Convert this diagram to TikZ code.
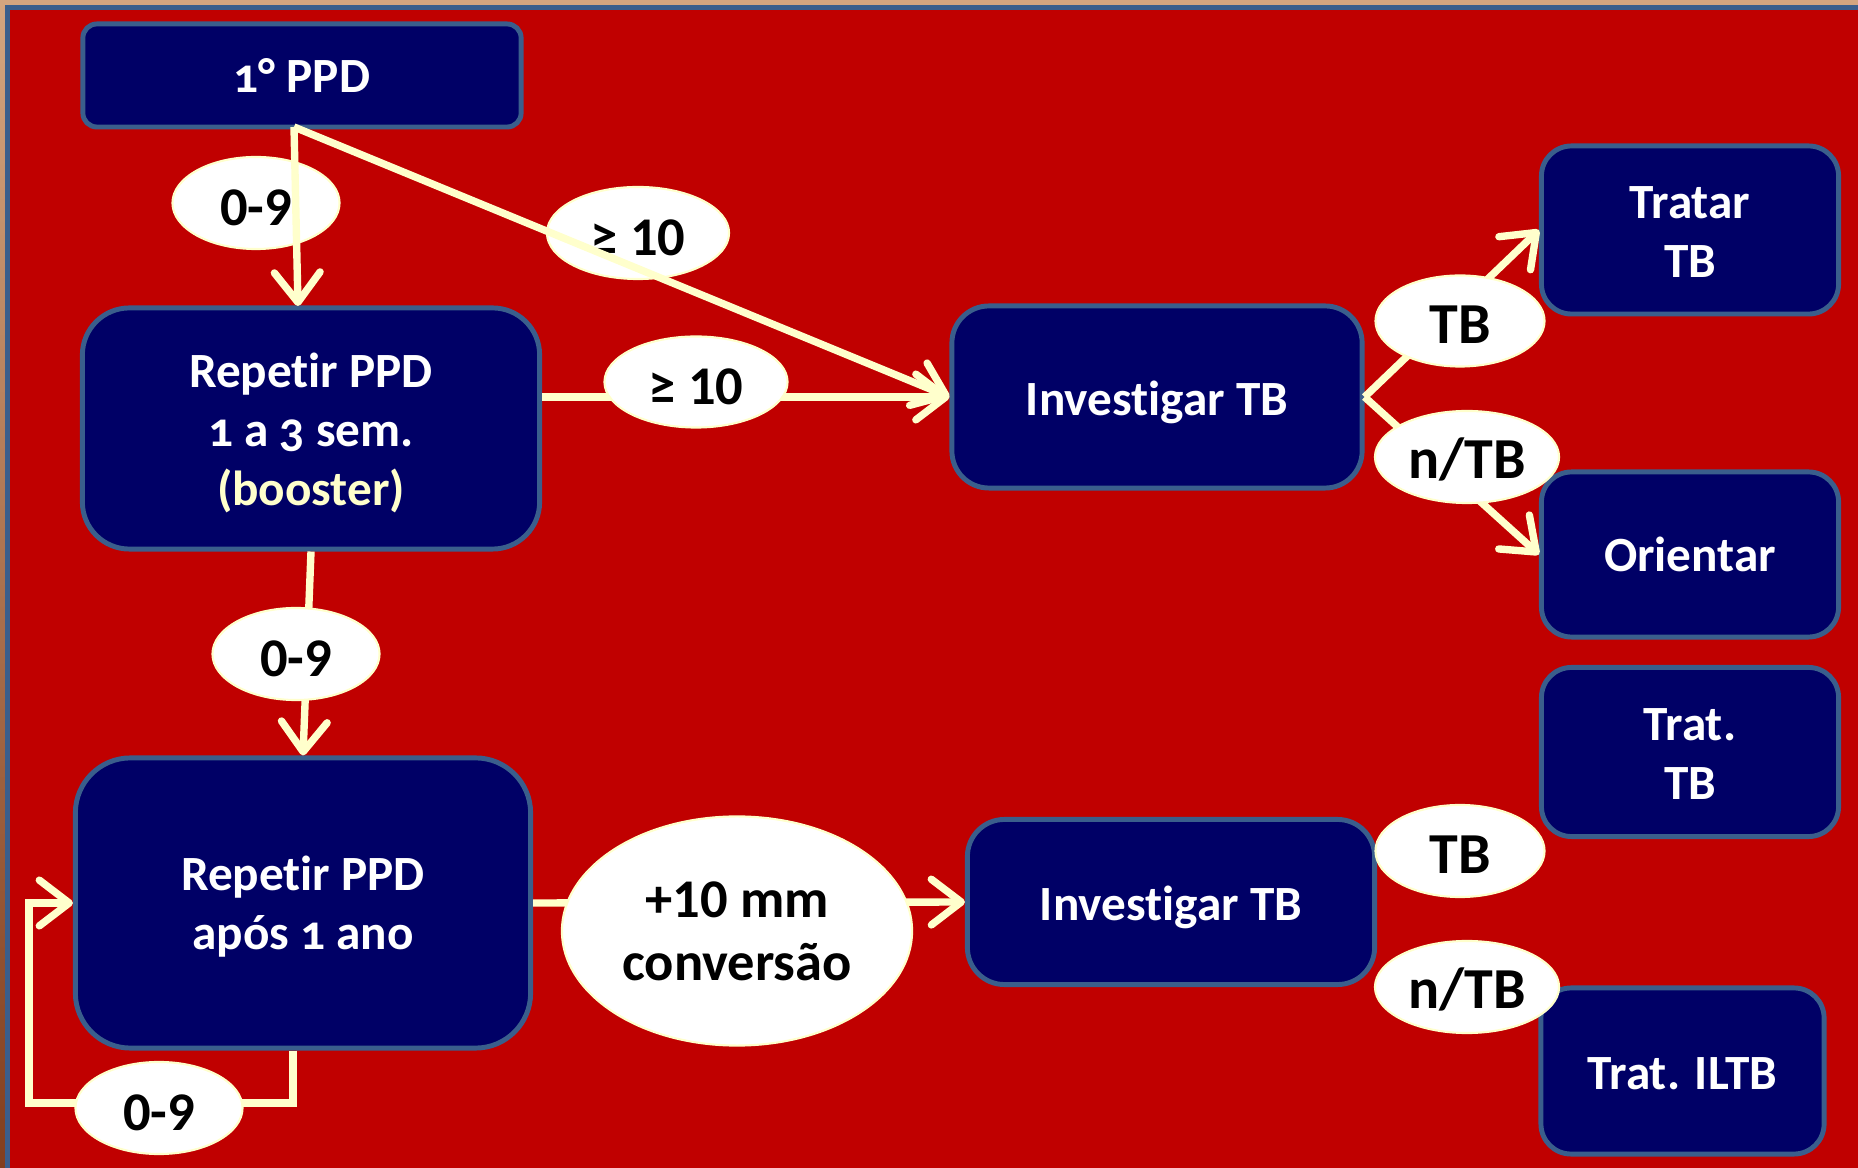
\documentclass[tikz,border=0pt]{standalone}
\usepackage{fontspec}
\setmainfont{Carlito}[Ligatures=NoCommon]
\newfontfamily\boxfont{Carlito}[Numbers=OldStyle,Ligatures=NoCommon]
\usetikzlibrary{arrows.meta,shapes.geometric,calc}
\definecolor{bgred}{RGB}{192,0,0}
\definecolor{navybox}{RGB}{0,0,102}
\definecolor{edgeblue}{RGB}{58,94,140}
\definecolor{cream}{RGB}{255,255,204}
\definecolor{mytan}{RGB}{212,165,127}
\definecolor{mybrown}{RGB}{130,62,30}
\newcommand\upr[1]{\rule{0pt}{#1pt}}
\begin{document}
\begin{tikzpicture}[x=0.01cm,y=-0.01cm,
  box/.style={draw=edgeblue, line width=1.4pt, fill=navybox, text=white,
    font=\boxfont\bfseries\fontsize{14}{16.8}\selectfont, align=center, inner sep=0pt},
  lab/.style={ellipse, draw=cream, line width=0.6pt, fill=white, text=black,
    font=\bfseries\fontsize{15.5}{17}\selectfont, inner sep=0pt, align=center,
    execute at begin node={\rule{0pt}{13pt}}},
  conn/.style={draw=cream, line width=2.1pt},
  arr/.style={conn, -{Straight Barb[length=8.5pt,width=13pt,round]}}
]
% background and frame
\fill[bgred] (0,0) rectangle (1858,1168);
\useasboundingbox (0,0) rectangle (1858,1168);
\fill[mytan] (0,0) rectangle (1858,5);
\shade[top color=mytan, bottom color=mybrown] (0,0) rectangle (5,1168);
\fill[edgeblue] (5,5) rectangle (1858,10);
\fill[edgeblue] (5,5) rectangle (10,1168);

% boxes
\node[box, rounded corners=0.14cm, minimum width=4.38cm, minimum height=1.03cm] (ppd1) at (302,75.5) {1° PPD};
\node[box, rounded corners=0.47cm, minimum width=4.57cm, minimum height=2.41cm] (rep1) at (311,428.5)
  {\upr{12.5}Repet\kern0pt ir PPD\\1 a 3 sem.\\{\color{cream}(booster)}};
\node[box, rounded corners=0.55cm, minimum width=4.55cm, minimum height=2.90cm] (rep2) at (303,903)
  {\upr{12}Repet\kern0pt ir PPD\\após 1 ano};
\node[box, rounded corners=0.37cm, minimum width=4.10cm, minimum height=1.82cm] (inv1) at (1157,397) {\upr{13}Invest\kern0pt igar TB};
\node[box, rounded corners=0.37cm, minimum width=4.07cm, minimum height=1.65cm] (inv2) at (1171,902) {\upr{13}Invest\kern0pt igar TB};
\node[box, rounded corners=0.30cm, minimum width=2.97cm, minimum height=1.68cm] (tratar) at (1690,230) {\upr{10}Tratar\\TB};
\node[box, rounded corners=0.30cm, minimum width=2.97cm, minimum height=1.65cm] (orientar) at (1690,554.5) {Orientar};
\node[box, rounded corners=0.30cm, minimum width=2.97cm, minimum height=1.69cm] (trattb) at (1690,752) {\upr{10}Trat.\\TB};
\node[box, rounded corners=0.30cm, minimum width=2.83cm, minimum height=1.66cm] (iltb) at (1682.5,1071) {\upr{10.5}Trat. ILTB};

% connectors under the labels
\coordinate (lb) at (293,1103);
\coordinate (ll) at (29,1103);
\draw[arr] (rep1.east |- inv1.west) -- (inv1.west);
\draw[arr] (rep1.south) -- (rep2.north);
\draw[arr] (rep2.east) -- (inv2.west);
\draw[arr] (rep2.south -| lb) -- (lb) -- (ll) -- (ll |- rep2.west) -- (rep2.west);
\draw[arr] (inv1.east) -- (tratar.west);
\draw[arr] (inv1.east) -- (orientar.west);

% labels
\node[lab, minimum width=1.67cm, minimum height=0.92cm] (e1) at (256,203) {0-9};
\node[lab, minimum width=1.82cm, minimum height=0.92cm] (e2) at (638,233) {≥ 10};
\node[lab, minimum width=1.83cm, minimum height=0.91cm] (e3) at (696,382) {≥ 10};
\node[lab, minimum width=1.67cm, minimum height=0.92cm] (e4) at (296,654) {0-9};
\node[lab, minimum width=3.50cm, minimum height=2.29cm, font=\bfseries\fontsize{15.5}{18}\selectfont] (e5) at (737,931) {+10 mm\\conversão};
\node[lab, minimum width=1.67cm, minimum height=0.92cm] (e6) at (159,1108) {0-9};
\node[lab, minimum width=1.69cm, minimum height=0.91cm, font=\bfseries\fontsize{16.5}{18}\selectfont] (e7) at (1460,321) {TB};
\node[lab, minimum width=1.84cm, minimum height=0.92cm, font=\bfseries\fontsize{16.5}{18}\selectfont] (e8) at (1467,457) {n/TB};
\node[lab, minimum width=1.69cm, minimum height=0.92cm, font=\bfseries\fontsize{16.5}{18}\selectfont] (e9) at (1460,851) {TB};
\node[lab, minimum width=1.84cm, minimum height=0.92cm, font=\bfseries\fontsize{16.5}{18}\selectfont] (e10) at (1467,987) {n/TB};

% connectors over the labels
\coordinate (fork) at (294,127);
\coordinate (rep1top) at (298,306);
\draw[arr] (fork) -- (rep1top);
\draw[arr] (fork) -- (inv1.west);
\end{tikzpicture}
\end{document}
